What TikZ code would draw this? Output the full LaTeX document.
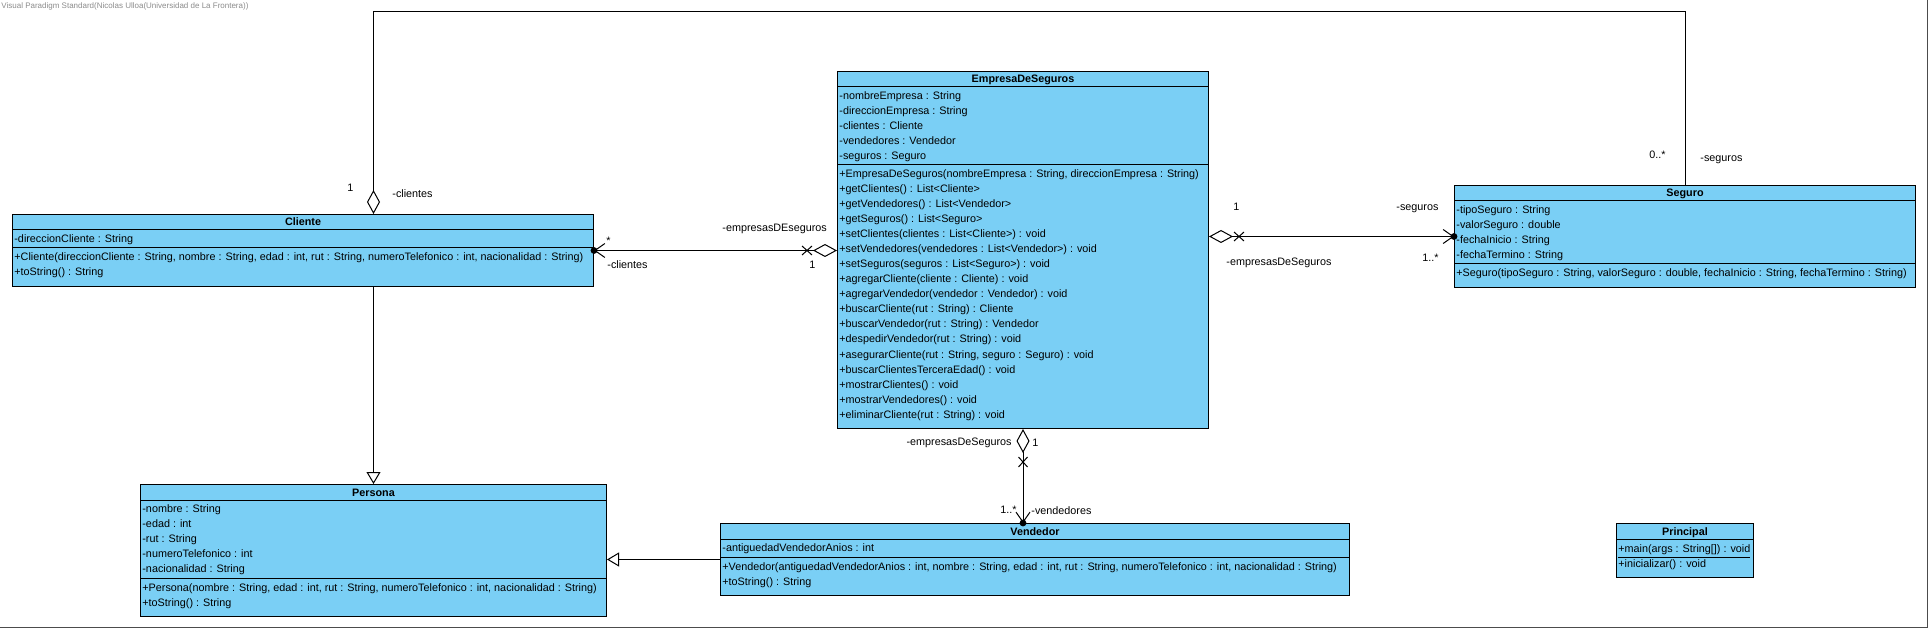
\documentclass[tikz,border=0pt]{standalone}
\usepackage{fontspec}
\setmainfont{Liberation Sans}
\usetikzlibrary{arrows.meta,calc}
\definecolor{umlfill}{RGB}{122,207,245}
\definecolor{vpgray}{RGB}{140,140,140}
\tikzset{
  x=0.5pt, y=-0.5pt,
  classbox/.style={draw=black, fill=umlfill, line width=0.5pt, inner sep=0pt, rectangle},
  sepline/.style={draw=black, line width=0.5pt},
  txt/.style={font=\fontsize{5.4pt}{6.5pt}\selectfont, inner sep=0pt, text=black},
  ttl/.style={font=\fontsize{5.4pt}{6.5pt}\selectfont\bfseries, inner sep=0pt, text=black},
  lbl/.style={font=\fontsize{5.4pt}{6.5pt}\selectfont, inner sep=0pt, anchor=west, text=black},
  conn/.style={draw=black, line width=0.5pt},
  dia/.tip={Diamond[open, length=12pt, width=6.5pt]},
  nav/.tip={Straight Barb[length=5pt, width=7pt]},
  gen/.tip={Triangle[open, length=6pt, width=7pt]},
}
\newcommand\umlclass[9]{%
  \pgfmathsetmacro\hA{#6==0 ? 0 : #6*15+3}%
  \pgfmathsetmacro\hO{#8*15+8}%
  \pgfmathsetmacro\hT{16+\hA+\hO}%
  \pgfmathsetmacro\yO{16+\hA}%
  \node[classbox, minimum width=#4*0.5pt, minimum height=\hT*0.5pt, anchor=north west] (#1) at (#2,#3) {};
  \node[ttl, anchor=base] (#1-t) at ($(#1.north)+(0,12)$) {#5};
  \draw[sepline] ($(#1.north west)+(0,16)$) -- ($(#1.north east)+(0,16)$);
  \ifnum#6>0
    \draw[sepline] ($(#1.north west)+(0,\yO)$) -- ($(#1.north east)+(0,\yO)$);
    \foreach \t [count=\i from 0] in {#7} {
      \node[txt, anchor=base west] (#1-a\i) at ($(#1.north west)+(2,16+12.5+15*\i)$) {\t};
    }
  \fi
  \foreach \t [count=\i from 0] in {#9} {
    \node[txt, anchor=base west] (#1-o\i) at ($(#1.north west)+(2,\yO+13+15*\i)$) {\t};
  }
}
\newcommand\xmark[2]{% center, name
  \coordinate (#2) at (#1);
  \draw[conn] ($(#2)+(-5,-4.5)$) -- ($(#2)+(5,4.5)$);
  \draw[conn] ($(#2)+(-5,4.5)$) -- ($(#2)+(5,-4.5)$);
}
\newcommand\xmarkv[2]{% center, name (vertical line)
  \coordinate (#2) at (#1);
  \draw[conn] ($(#2)+(-4.5,-5)$) -- ($(#2)+(4.5,5)$);
  \draw[conn] ($(#2)+(-4.5,5)$) -- ($(#2)+(4.5,-5)$);
}
\begin{document}
\begin{tikzpicture}
\useasboundingbox (0,0) rectangle (1930,630);
\fill[white] (0,0) rectangle (1930,630);
\draw[black!70, line width=0.5pt] (0,627.5) -- (1927.5,627.5) -- (1927.5,0);

\node[font=\fontsize{4pt}{5pt}\selectfont, text=vpgray, inner sep=0pt, anchor=west] (vp) at (1,6) {Visual Paradigm Standard(Nicolas Ulloa(Universidad de La Frontera))};

\umlclass{emp}{837}{71}{371}{EmpresaDeSeguros}{5}{
  -nombreEmpresa : String, -direccionEmpresa : String, -clientes : Cliente, -vendedores : Vendedor, -seguros : Seguro}{17}{
  {+EmpresaDeSeguros(nombreEmpresa : String, direccionEmpresa : String)},
  +getClientes() : List<Cliente>,
  +getVendedores() : List<Vendedor>,
  +getSeguros() : List<Seguro>,
  +setClientes(clientes : List<Cliente>) : void,
  +setVendedores(vendedores : List<Vendedor>) : void,
  +setSeguros(seguros : List<Seguro>) : void,
  +agregarCliente(cliente : Cliente) : void,
  +agregarVendedor(vendedor : Vendedor) : void,
  +buscarCliente(rut : String) : Cliente,
  +buscarVendedor(rut : String) : Vendedor,
  +despedirVendedor(rut : String) : void,
  {+asegurarCliente(rut : String, seguro : Seguro) : void},
  +buscarClientesTerceraEdad() : void,
  +mostrarClientes() : void,
  +mostrarVendedores() : void,
  +eliminarCliente(rut : String) : void}

\umlclass{cli}{12}{214}{581}{Cliente}{1}{-direccionCliente : String}{2}{
  {+Cliente(direccionCliente : String, nombre : String, edad : int, rut : String, numeroTelefonico : int, nacionalidad : String)},
  +toString() : String}

\umlclass{seg}{1454}{185}{461}{Seguro}{4}{
  -tipoSeguro : String, -valorSeguro : double, -fechaInicio : String, -fechaTermino : String}{1}{
  {+Seguro(tipoSeguro : String, valorSeguro : double, fechaInicio : String, fechaTermino : String)}}

\umlclass{per}{140}{484}{466}{Persona}{5}{
  -nombre : String, -edad : int, -rut : String, -numeroTelefonico : int, -nacionalidad : String}{2}{
  {+Persona(nombre : String, edad : int, rut : String, numeroTelefonico : int, nacionalidad : String)},
  +toString() : String}

\umlclass{ven}{720}{523}{629}{Vendedor}{1}{-antiguedadVendedorAnios : int}{2}{
  {+Vendedor(antiguedadVendedorAnios : int, nombre : String, edad : int, rut : String, numeroTelefonico : int, nacionalidad : String)},
  +toString() : String}

\umlclass{pri}{1616}{523}{137}{Principal}{0}{}{2}{
  \underline{+main(args : String[]) : void},
  +inicializar() : void}

% Cliente -- Seguro (loop over the top)
\coordinate (top) at (0,12);
\coordinate (tl) at (per.north |- top);
\coordinate (tr) at (seg.north |- top);
\draw[conn, {dia}-] (cli.north -| tl) -- (tl) -- (tr) -- (seg.north);
\node[lbl] (l1) at (347,188) {1};
\node[lbl] (l2) at (392,194) {-clientes};
\node[lbl] (l3) at (1649,155) {0..*};
\node[lbl] (l4) at (1700,160) {-seguros};

% Cliente -- EmpresaDeSeguros
\draw[conn, {nav}-{dia}] (cli.east) -- (cli.east -| emp.west);
\fill (cli.east) circle (1.7pt);
\xmark{$(cli.east -| emp.west)+(-30,0)$}{x1}
\node[lbl] (l5) at (606,241) {*};
\node[lbl] (l6) at (607,265) {-clientes};
\node[lbl] (l7) at (722,229) {-empresasDEseguros};
\node[lbl] (l8) at (809,265) {1};

% EmpresaDeSeguros -- Seguro
\draw[conn, {dia}-{nav}] (seg.west -| emp.east) -- (seg.west);
\fill (seg.west) circle (1.7pt);
\xmark{$(seg.west -| emp.east)+(30,0)$}{x2}
\node[lbl] (l9) at (1233,207) {1};
\node[lbl] (l10) at (1226,263) {-empresasDeSeguros};
\node[lbl] (l11) at (1396,209) {-seguros};
\node[lbl] (l12) at (1422,258) {1..*};

% EmpresaDeSeguros -- Vendedor
\draw[conn, {dia}-{nav}] (emp.south) -- (emp.south |- ven.north);
\fill (emp.south |- ven.north) circle (1.7pt);
\xmarkv{$(emp.south)+(0,33)$}{x3}
\node[lbl, anchor=east] (l13) at (1012,443) {-empresasDeSeguros};
\node[lbl] (l14) at (1032,443) {1};
\node[lbl, anchor=east] (l15) at (1017,510) {1..*};
\node[lbl] (l16) at (1031,511) {-vendedores};

% Generalizations
\draw[conn, -{gen}] (cli.south -| per.north) -- (per.north);
\draw[conn, -{gen}] (ven.west) -- (ven.west -| per.east);
\end{tikzpicture}
\end{document}
